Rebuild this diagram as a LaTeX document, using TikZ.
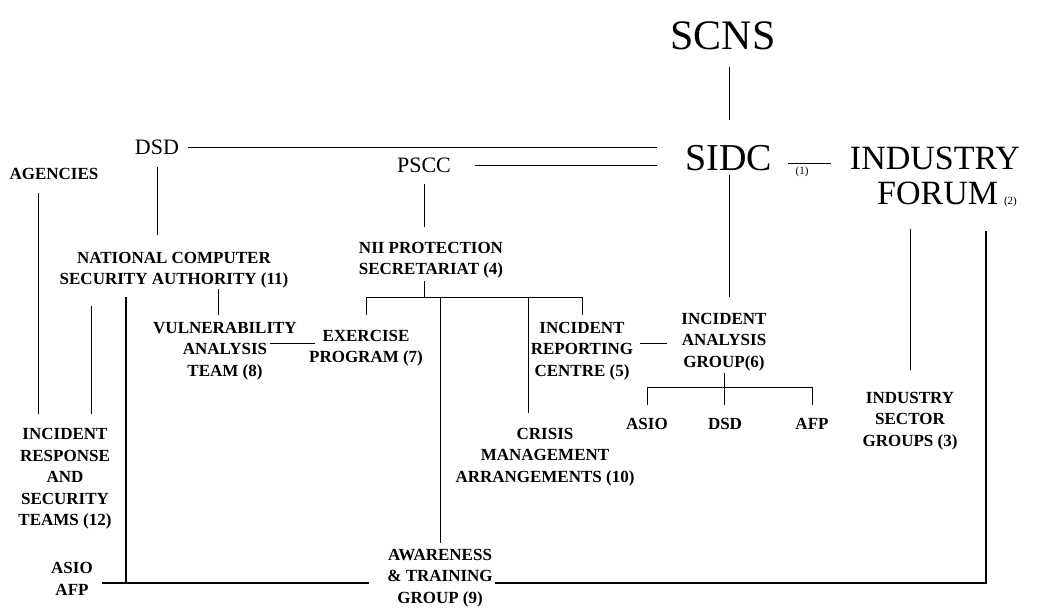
\documentclass[tikz,border=0pt]{standalone}
\usepackage{fontspec}
\setmainfont{Liberation Serif}
\usetikzlibrary{positioning}

\begin{document}
\begin{tikzpicture}[x=1pt, y=-1pt, node distance=12pt,
    unit/.style={font=\bfseries\fontsize{17}{21.5}\selectfont, align=center, inner sep=0pt},
    head/.style={inner sep=0pt},
    tie/.style={line width=1pt},
    heavy/.style={line width=2pt}]

  \useasboundingbox (0,0) rectangle (1037,608);

  % Top of the chart
  \node[head, font=\fontsize{42}{44}\selectfont] (scns) at (723,36) {SCNS};
  \node[head, font=\fontsize{38}{40}\selectfont] (sidc) at (729,158) {SIDC};
  \node[head, font=\fontsize{11}{12}\selectfont] (one) at (802,172) {(1)};
  \node[head, font=\fontsize{34}{36}\selectfont] (ind) at (935,158) {INDUSTRY};
  \node[head, font=\fontsize{34}{36}\selectfont, below=12pt of ind, xshift=12pt] (forum) {FORUM\hspace{6pt}{\fontsize{11}{12}\selectfont(2)}};
  \node[head, font=\fontsize{22}{24}\selectfont] (dsd) at (157,147) {DSD};
  \node[head, font=\fontsize{22}{24}\selectfont] (pscc) at (424,165) {PSCC};

  % Units
  \node[unit] (agencies) at (54,174) {AGENCIES};
  \node[unit] (ncsa) at (174,270) {NATIONAL COMPUTER\\SECURITY AUTHORITY (11)};
  \node[unit] (nii) at (431,260) {NII PROTECTION\\SECRETARIAT (4)};
  \node[unit] (vat) at (225,351) {VULNERABILITY\\ANALYSIS\\TEAM (8)};
  \node[unit] (ep) at (366,348) {EXERCISE\\PROGRAM (7)};
  \node[unit] (irc) at (582,351) {INCIDENT\\REPORTING\\CENTRE (5)};
  \node[unit] (iag) at (724,342) {INCIDENT\\ANALYSIS\\GROUP(6)};
  \node[unit] (asio) at (647,424) {ASIO};
  \node[unit] (dsdb) at (725,424) {DSD};
  \node[unit] (afp) at (812,424) {AFP};
  \node[unit] (isg) at (910,421) {INDUSTRY\\SECTOR\\GROUPS (3)};
  \node[unit] (crisis) at (545,457) {CRISIS\\MANAGEMENT\\ARRANGEMENTS (10)};
  \node[unit] (irst) at (65,479) {INCIDENT\\RESPONSE\\AND\\SECURITY\\TEAMS (12)};
  \node[unit] (asioafp) at (72,579) {ASIO\\AFP};
  \node[unit] (atg) at (440,578) {AWARENESS\\\& TRAINING\\GROUP (9)};

  % Bus points
  \path (nii.south -| pscc) ++(0,19) coordinate (niibus);
  \path (iag.south) ++(0,16) coordinate (iagbus);
  \coordinate (floor) at ([yshift=-5pt]atg.west);

  % Connectors at the top
  \draw[tie, shorten <=17pt, shorten >=25pt] (scns.south -| sidc) -- (sidc.north);
  \draw[tie, shorten <=9pt, shorten >=29pt] (dsd.east) -- (dsd.east -| sidc.west);
  \draw[tie, shorten <=24pt, shorten >=29pt] (pscc.east) -- (pscc.east -| sidc.west);
  \draw[tie, shorten <=16pt, shorten >=19pt] ([yshift=-5pt]sidc.east) -- ([yshift=-5pt]sidc.east -| ind.west);
  \draw[tie, shorten <=4pt, shorten >=16pt] (sidc.south) -- (sidc.south |- iag.north);
  \draw[tie, shorten <=12pt, shorten >=17pt] (dsd.south) -- (dsd.south |- ncsa.north);
  \draw[tie, shorten <=11pt, shorten >=15pt] (pscc.south) -- (pscc.south |- nii.north);

  % Secretariat branches
  \draw[tie, shorten <=3pt] (nii.south -| pscc) -- (niibus);
  \draw[tie, shorten <=15pt, shorten >=7pt] (ep.north) |- (niibus) -| (irc.north);
  \draw[tie, shorten >=6pt] (niibus -| atg) -- (atg.north);
  \draw[tie, shorten >=15pt] ([xshift=-17pt]crisis.north |- niibus) -- ([xshift=-17pt]crisis.north);
  \draw[tie, shorten <=1pt, shorten >=7pt] ([xshift=-7pt]vat.north |- ncsa.south) -- ([xshift=-7pt]vat.north);
  \draw[tie] ([xshift=45pt, yshift=8pt]vat.center) -- ([xshift=-51pt, yshift=5pt]ep.center);
  \draw[tie] ([xshift=58pt, yshift=8pt]irc.center) -- ([xshift=-57pt, yshift=-1pt]iag.center);

  % Incident analysis group
  \draw[tie, shorten <=2pt, shorten >=13pt] (iag.south) -- (iag.south |- dsdb.north);
  \draw[tie, shorten <=13pt, shorten >=13pt] (asio.north) |- (iagbus) -| (afp.north);

  % Industry side
  \draw[tie, shorten <=22pt, shorten >=22pt] (isg.north |- forum.south) -- (isg.north);
  \draw[heavy, shorten <=24pt, shorten >=2pt] ([xshift=39pt]forum.south) |- (floor -| atg.east);
  \draw[heavy, shorten <=18pt, shorten >=9pt] (floor) -- (floor -| asioafp.east);

  % Left side
  \draw[heavy, shorten <=9pt] ([xshift=-48pt]ncsa.south) -- ([xshift=-48pt]ncsa.south |- floor);
  \draw[tie, shorten <=18pt, shorten >=14pt] ([xshift=26pt]irst.north |- ncsa.south) -- ([xshift=26pt]irst.north);
  \draw[tie, shorten <=13pt, shorten >=14pt] ([xshift=-27pt]irst.north |- agencies.south) -- ([xshift=-27pt]irst.north);

\end{tikzpicture}
\end{document}
